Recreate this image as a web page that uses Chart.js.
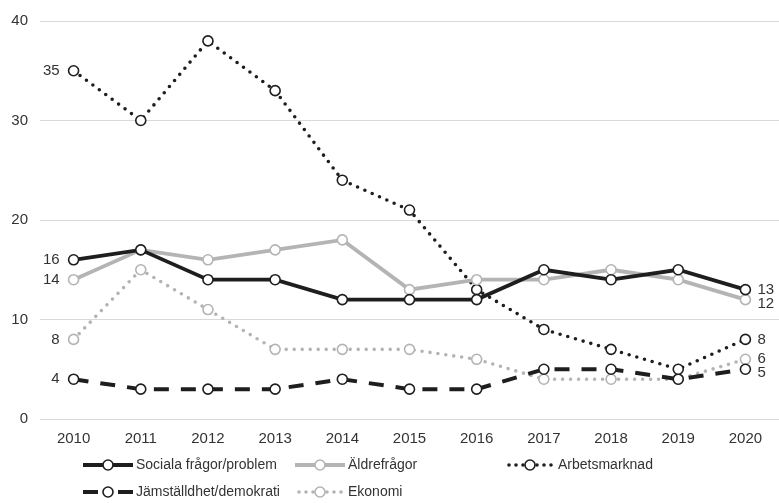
<!DOCTYPE html>
<html>
<head>
<meta charset="utf-8">
<script src="https://cdn.jsdelivr.net/npm/chart.js@4.4.0/dist/chart.umd.min.js"></script>
<style>
  body { margin: 0; background: #fff; }
  #wrap { width: 779px; height: 503px; }
</style>
</head>
<body>
<div id="wrap"><canvas id="chart" width="779" height="503"></canvas></div>
<script>
// Data
const years = ['2010', '2011', '2012', '2013', '2014', '2015', '2016', '2017', '2018', '2019', '2020'];
const sociala = [16, 17, 14, 14, 12, 12, 12, 15, 14, 15, 13];
const aldre = [14, 17, 16, 17, 18, 13, 14, 14, 15, 14, 12];
const arbetsmarknad = [35, 30, 38, 33, 24, 21, 13, 9, 7, 5, 8];
const jamstalldhet = [4, 3, 3, 3, 4, 3, 3, 5, 5, 4, 5];
const ekonomi = [8, 15, 11, 7, 7, 7, 6, 4, 4, 4, 6];
const yTicks = [0, 10, 20, 30, 40];

const BLACK = '#1e1e1e';
const GRAY = '#b4b4b4';
const FONT = '"Liberation Sans", Arial, sans-serif';
const TEXT = '#333333';

function series(label, data, color, width, dash) {
    return {
        label: label,
        data: data,
        borderColor: color,
        borderWidth: width,
        borderDash: dash,
        borderCapStyle: dash.length && dash[0] === 0 ? 'round' : 'butt',
        pointRadius: 5,
        pointBorderWidth: 1.6,
        pointBackgroundColor: '#ffffff',
        pointBorderColor: color,
        tension: 0
    };
}

const datasets = [
    series('Sociala frågor/problem', sociala, BLACK, 3.8, []),
    series('Äldrefrågor', aldre, GRAY, 3.8, []),
    series('Arbetsmarknad', arbetsmarknad, BLACK, 3.6, [0, 8]),
    series('Jämställdhet/demokrati', jamstalldhet, BLACK, 4, [15, 12]),
    series('Ekonomi', ekonomi, GRAY, 3.6, [0, 8])
];

// Value labels at the first and last point of every line
const endLabels = {
    id: 'endLabels',
    afterDatasetsDraw(chart) {
        const ctx = chart.ctx;
        ctx.save();
        ctx.font = '15px ' + FONT;
        ctx.fillStyle = TEXT;
        ctx.textBaseline = 'middle';
        ['first', 'last'].forEach(side => {
            const items = [];
            chart.data.datasets.forEach((ds, i) => {
                const pts = chart.getDatasetMeta(i).data;
                const idx = side === 'first' ? 0 : pts.length - 1;
                items.push({ x: pts[idx].x, y: pts[idx].y, v: ds.data[idx] });
            });
            items.sort((a, b) => a.y - b.y);
            for (let k = 1; k < items.length; k++) {
                if (items[k].y - items[k - 1].y < 14) items[k].y = items[k - 1].y + 14;
            }
            items.forEach(it => {
                if (side === 'first') {
                    ctx.textAlign = 'right';
                    ctx.fillText(String(it.v), it.x - 14, it.y);
                } else {
                    ctx.textAlign = 'left';
                    ctx.fillText(String(it.v), it.x + 12, it.y);
                }
            });
        });
        ctx.restore();
    }
};

// Legend drawn under the axis in a small grid
const bottomLegend = {
    id: 'bottomLegend',
    afterDraw(chart) {
        const ctx = chart.ctx;
        const cols = [83, 295, 505];
        const rows = [465, 492];
        ctx.save();
        ctx.font = '14px ' + FONT;
        ctx.textBaseline = 'middle';
        chart.data.datasets.forEach((ds, i) => {
            const x = cols[i % 3];
            const y = rows[Math.floor(i / 3)];
            ctx.save();
            ctx.strokeStyle = ds.borderColor;
            ctx.lineWidth = ds.borderWidth;
            ctx.lineCap = ds.borderCapStyle;
            ctx.beginPath();
            if (ds.borderDash.length && ds.borderDash[0] === 0) {
                ctx.setLineDash([0, 7]);
                ctx.moveTo(x + 4, y);
                ctx.lineTo(x + 48, y);
            } else if (ds.borderDash.length) {
                ctx.moveTo(x, y); ctx.lineTo(x + 15, y);
                ctx.moveTo(x + 35, y); ctx.lineTo(x + 50, y);
            } else {
                ctx.moveTo(x, y);
                ctx.lineTo(x + 50, y);
            }
            ctx.stroke();
            ctx.setLineDash([]);
            ctx.beginPath();
            ctx.arc(x + 25, y, 5, 0, Math.PI * 2);
            ctx.fillStyle = '#ffffff';
            ctx.fill();
            ctx.lineWidth = 1.6;
            ctx.stroke();
            ctx.restore();
            ctx.fillStyle = TEXT;
            ctx.textAlign = 'left';
            ctx.fillText(ds.label, x + 53, y);
        });
        ctx.restore();
    }
};

new Chart(document.getElementById('chart'), {
    type: 'line',
    data: { labels: years, datasets: datasets },
    plugins: [endLabels, bottomLegend],
    options: {
        responsive: false,
        animation: false,
        layout: { autoPadding: false, padding: { top: 20, right: 0, bottom: 54, left: 0 } },
        plugins: {
            legend: { display: false },
            tooltip: { enabled: false }
        },
        scales: {
            x: {
                offset: true,
                grid: { display: false, drawTicks: false },
                border: { display: false },
                ticks: { color: TEXT, font: { family: FONT, size: 15 }, padding: 11, maxRotation: 0 },
                afterFit(scale) { scale.height = 30; }
            },
            y: {
                min: 0,
                max: 40,
                afterBuildTicks(scale) { scale.ticks = yTicks.map(v => ({ value: v })); },
                grid: { color: '#d9d9d9', lineWidth: 1, drawTicks: false },
                border: { display: false },
                ticks: { color: TEXT, font: { family: FONT, size: 15 }, padding: 12 },
                afterFit(scale) { scale.width = 40; }
            }
        }
    }
});
</script>
</body>
</html>
